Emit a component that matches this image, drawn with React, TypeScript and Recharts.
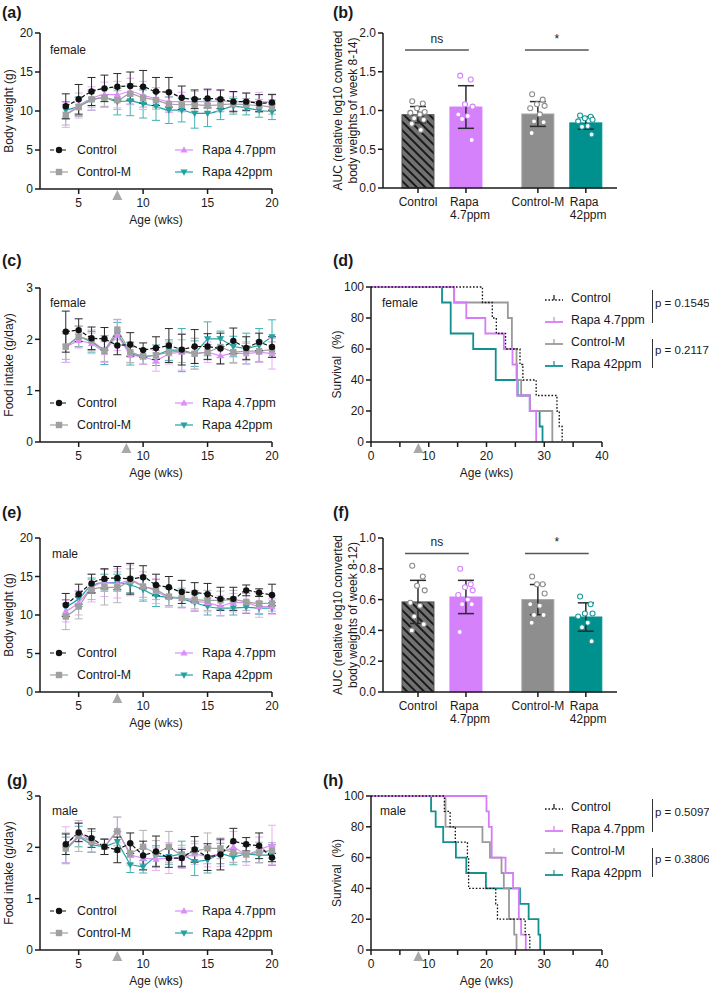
import React from "react";
import {
  ComposedChart,
  Line,
  Bar,
  Scatter,
  XAxis,
  YAxis,
  ErrorBar,
  Legend,
  ReferenceDot,
  ReferenceLine,
} from "recharts";

const FONT = '"Liberation Sans", Arial, Helvetica, sans-serif';
const INK = "#1a1a1a";

const weeks = [4, 5, 6, 7, 8, 9, 10, 11, 12, 13, 14, 15, 16, 17, 18, 19, 20];

// (a) female body weight, g (mean / SD)
const fBwControl = [10.6, 11.5, 12.5, 12.9, 13.1, 13.2, 13.1, 12.5, 12.4, 11.7, 11.5, 11.6, 11.5, 11.2, 11.2, 11.0, 11.1];
const fBwControlSd = [1.6, 1.9, 1.8, 1.7, 1.7, 1.8, 2.1, 1.8, 1.9, 1.5, 1.2, 1.2, 1.2, 1.3, 1.1, 1.1, 1.0];
const fBwControlM = [9.5, 10.5, 11.5, 11.7, 11.4, 12.2, 11.7, 11.4, 10.9, 10.8, 10.8, 10.7, 10.8, 10.9, 10.8, 10.7, 10.5];
const fBwControlMSd = [1.3, 1.2, 1.0, 1.1, 1.2, 1.3, 1.2, 1.0, 0.9, 0.9, 0.9, 0.9, 0.9, 0.9, 0.8, 0.8, 0.9];
const fBwRapa47 = [9.5, 10.7, 11.6, 12.1, 12.1, 12.5, 12.0, 11.6, 11.2, 11.2, 11.2, 11.2, 11.3, 11.2, 11.2, 11.2, 11.1];
const fBwRapa47Sd = [1.6, 1.6, 1.5, 1.6, 1.7, 1.7, 1.8, 1.4, 1.4, 1.2, 1.3, 1.4, 1.3, 1.2, 1.1, 1.2, 1.1];
const fBwRapa42 = [10.1, 10.6, 11.4, 11.7, 11.2, 11.3, 10.9, 10.6, 10.1, 10.1, 9.7, 9.7, 10.1, 10.6, 10.4, 10.1, 9.9];
const fBwRapa42Sd = [1.1, 1.2, 1.3, 1.2, 1.7, 1.9, 1.8, 1.8, 1.7, 1.5, 1.9, 1.7, 1.2, 1.0, 0.9, 0.9, 1.0];

// (c) female food intake, g/day
const fFiControl = [2.15, 2.18, 2.02, 2.01, 1.88, 1.9, 1.79, 1.83, 1.88, 1.8, 1.86, 1.86, 1.82, 1.97, 1.83, 1.95, 1.85];
const fFiControlSd = [0.4, 0.22, 0.22, 0.22, 0.18, 0.23, 0.14, 0.22, 0.33, 0.3, 0.33, 0.25, 0.3, 0.25, 0.22, 0.17, 0.2];
const fFiControlM = [1.86, 2.05, 1.98, 1.77, 2.19, 1.75, 1.67, 1.69, 1.75, 1.77, 1.72, 1.75, 1.85, 1.75, 1.77, 1.77, 1.8];
const fFiControlMSd = [0.25, 0.2, 0.2, 0.2, 0.2, 0.2, 0.15, 0.15, 0.2, 0.22, 0.3, 0.15, 0.2, 0.2, 0.18, 0.2, 0.15];
const fFiRapa47 = [1.85, 1.98, 1.92, 1.75, 2.08, 1.69, 1.66, 1.58, 1.72, 1.75, 1.72, 1.75, 1.68, 1.73, 1.72, 1.75, 1.72];
const fFiRapa47Sd = [0.3, 0.15, 0.2, 0.2, 0.3, 0.15, 0.15, 0.2, 0.2, 0.35, 0.3, 0.2, 0.15, 0.2, 0.2, 0.2, 0.3];
const fFiRapa42 = [1.85, 2.06, 1.95, 1.79, 2.11, 1.72, 1.66, 1.69, 1.79, 1.79, 1.72, 2.01, 2.01, 1.86, 1.82, 1.88, 2.05];
const fFiRapa42Sd = [0.3, 0.2, 0.2, 0.28, 0.22, 0.22, 0.15, 0.2, 0.2, 0.42, 0.25, 0.33, 0.15, 0.2, 0.3, 0.33, 0.33];

// (e) male body weight, g
const mBwControl = [11.3, 12.7, 14.1, 14.7, 14.8, 14.7, 14.9, 13.9, 13.6, 13.0, 12.9, 12.7, 12.1, 12.1, 13.2, 12.9, 12.6];
const mBwControlSd = [1.5, 1.3, 1.2, 1.3, 1.5, 2.0, 1.5, 1.4, 1.4, 1.5, 1.3, 1.4, 1.5, 1.5, 0.7, 0.5, 1.4];
const mBwControlM = [9.8, 11.1, 13.3, 13.6, 13.6, 14.4, 13.7, 13.3, 12.4, 12.2, 12.0, 11.9, 11.9, 12.0, 11.7, 11.5, 11.5];
const mBwControlMSd = [1.7, 1.6, 1.3, 2.3, 2.0, 1.6, 1.4, 1.3, 1.2, 1.2, 1.2, 1.3, 1.2, 1.2, 1.1, 1.3, 1.0];
const mBwRapa47 = [10.5, 11.6, 13.5, 14.2, 14.1, 14.5, 13.8, 13.1, 12.3, 12.2, 11.8, 11.6, 11.2, 11.6, 11.6, 11.1, 11.1];
const mBwRapa47Sd = [1.4, 1.6, 1.8, 1.8, 1.9, 2.0, 1.8, 1.6, 1.3, 1.3, 1.2, 1.2, 1.3, 1.2, 1.3, 1.4, 1.0];
const mBwRapa42 = [11.0, 12.1, 13.8, 14.2, 14.2, 13.9, 13.3, 12.5, 12.3, 12.1, 11.6, 11.1, 10.9, 10.9, 11.0, 10.9, 10.9];
const mBwRapa42Sd = [1.0, 1.0, 1.0, 1.1, 1.1, 1.0, 1.5, 1.4, 1.1, 1.1, 1.1, 1.1, 1.0, 0.9, 0.8, 0.8, 0.7];

// (g) male food intake, g/day
const mFiControl = [2.06, 2.29, 2.18, 2.01, 1.95, 2.08, 1.84, 1.92, 1.79, 1.79, 1.96, 1.81, 1.86, 2.12, 2.06, 2.03, 1.8];
const mFiControlSd = [0.2, 0.18, 0.18, 0.15, 0.25, 0.2, 0.28, 0.3, 0.18, 0.17, 0.25, 0.26, 0.3, 0.25, 0.13, 0.25, 0.08];
const mFiControlM = [1.98, 2.22, 2.11, 2.01, 2.31, 1.88, 2.01, 1.88, 2.01, 1.84, 1.92, 1.98, 1.98, 1.9, 1.87, 1.9, 1.94];
const mFiControlMSd = [0.3, 0.3, 0.2, 0.15, 0.28, 0.2, 0.32, 0.25, 0.3, 0.2, 0.2, 0.3, 0.2, 0.2, 0.15, 0.2, 0.15];
const mFiRapa47 = [2.05, 2.3, 2.11, 2.01, 2.34, 1.85, 1.79, 1.77, 1.79, 1.79, 1.87, 1.82, 1.88, 2.01, 1.85, 1.95, 2.05];
const mFiRapa47Sd = [0.35, 0.18, 0.2, 0.15, 0.25, 0.2, 0.22, 0.22, 0.3, 0.2, 0.2, 0.2, 0.25, 0.3, 0.2, 0.25, 0.38];
const mFiRapa42 = [1.95, 2.21, 2.05, 2.01, 2.11, 1.66, 1.62, 1.83, 1.82, 1.87, 1.72, 1.75, 1.88, 1.81, 1.87, 1.85, 1.85];
const mFiRapa42Sd = [0.25, 0.2, 0.15, 0.15, 0.2, 0.15, 0.12, 0.2, 0.15, 0.25, 0.27, 0.25, 0.2, 0.15, 0.15, 0.15, 0.2];

// AUC bar panels: group order Control, Rapa 4.7ppm, Control-M, Rapa 42ppm
const barLabels = ["Control", "Rapa\n4.7ppm", "Control-M", "Rapa\n42ppm"];
const fAucMean = [0.946, 1.045, 0.955, 0.84];
const fAucSd = [0.105, 0.275, 0.16, 0.08];
const fAucControl = [1.12, 1.09, 1.03, 0.98, 0.97, 0.95, 0.9, 0.88, 0.83, 0.75];
const fAucRapa47 = [1.45, 1.4, 1.08, 1.05, 0.95, 0.93, 0.89, 0.62];
const fAucControlM = [1.21, 1.14, 1.08, 1.06, 1.03, 0.95, 0.86, 0.85, 0.71];
const fAucRapa42 = [0.935, 0.92, 0.9, 0.88, 0.86, 0.8, 0.79, 0.69];
const mAucMean = [0.585, 0.617, 0.6, 0.487];
const mAucSd = [0.14, 0.108, 0.098, 0.092];
const mAucControl = [0.82, 0.75, 0.69, 0.66, 0.58, 0.56, 0.49, 0.44, 0.4];
const mAucRapa47 = [0.8, 0.7, 0.68, 0.66, 0.63, 0.6, 0.57, 0.57, 0.39];
const mAucControlM = [0.75, 0.7, 0.7, 0.64, 0.57, 0.56, 0.5, 0.5, 0.45];
const mAucRapa42 = [0.62, 0.57, 0.51, 0.51, 0.49, 0.45, 0.42, 0.33];
const sigLabels = ["ns", "*"];

// survival, weeks at each step and % alive after it
const fSurvControlWk = [0, 19.3, 21.0, 21.7, 23.3, 25.8, 26.3, 28.6, 32.2, 32.6, 33.1];
const fSurvControlPct = [100, 90, 80, 70, 60, 50, 40, 30, 20, 10, 0];
const fSurvRapa47Wk = [0, 14.4, 16.5, 19.8, 23.0, 24.5, 25.3, 27.5, 28.6];
const fSurvRapa47Pct = [100, 90, 80, 70, 60, 50, 30, 20, 0];
const fSurvControlMWk = [0, 14.4, 23.7, 24.4, 25.2, 26.0, 27.5, 31.4];
const fSurvControlMPct = [100, 90, 80, 60, 40, 30, 20, 0];
const fSurvRapa42Wk = [0, 12.3, 13.8, 17.7, 21.6, 25.4, 27.5, 29.2, 29.7];
const fSurvRapa42Pct = [100, 90, 70, 60, 40, 30, 20, 10, 0];
const mSurvControlWk = [0, 12.7, 13.7, 14.6, 16.7, 16.9, 21.6, 21.9, 26.7, 27.5];
const mSurvControlPct = [100, 90, 80, 70, 60, 40, 30, 20, 10, 0];
const mSurvRapa47Wk = [0, 20.0, 20.4, 20.9, 23.3, 24.6, 25.6, 26.0, 26.8];
const mSurvRapa47Pct = [100, 90, 80, 60, 50, 40, 20, 10, 0];
const mSurvControlMWk = [0, 12.9, 19.3, 20.6, 22.6, 23.0, 23.9, 24.8, 25.2];
const mSurvControlMPct = [100, 80, 70, 60, 50, 40, 20, 10, 0];
const mSurvRapa42Wk = [0, 10.4, 11.2, 12.5, 14.7, 16.5, 19.9, 25.8, 27.3, 29.0, 29.3];
const mSurvRapa42Pct = [100, 90, 80, 70, 60, 50, 40, 30, 20, 10, 0];
const fPValues = ["p = 0.1545", "p = 0.2117"];
const mPValues = ["p = 0.5097", "p = 0.3806"];

const groups = [
  { key: "control", name: "Control", line: "#111111", err: "#2a2a2a", dash: "4 2", marker: "circle" },
  { key: "controlM", name: "Control-M", line: "#a0a0a0", err: "#b4b4b4", dash: undefined, marker: "square" },
  { key: "rapa47", name: "Rapa 4.7ppm", line: "#dc8ef8", err: "#e8acfb", dash: undefined, marker: "up" },
  { key: "rapa42", name: "Rapa 42ppm", line: "#22a2a2", err: "#44b3b3", dash: undefined, marker: "down" },
];
const drawOrder = [3, 2, 1, 0];

const barFills = ["url(#hatch)", "#d681fc", "#8e8e8e", "#00908d"];
const barEdges = ["#555555", "#d681fc", "#a6a6a6", "#00908d"];
const dotStrokes = ["#8a8a8a", "#d681fc", "#8e8e8e", "#1c9898"];
const jitter = [-0.12, 0.1, -0.02, 0.14, -0.16, 0.04, -0.08, 0.12, -0.13, 0.06];

const survStyles = [
  { name: "Control", color: "#111111", dash: "1.6 1.8", width: 1.3 },
  { name: "Rapa 4.7ppm", color: "#d77cf7", dash: undefined, width: 1.8 },
  { name: "Control-M", color: "#9a9a9a", dash: undefined, width: 1.8 },
  { name: "Rapa 42ppm", color: "#11908f", dash: undefined, width: 1.8 },
];

function Marker({ kind, cx, cy, color }: any) {
  if (kind === "circle") return <circle cx={cx} cy={cy} r={3.2} fill={color} />;
  if (kind === "square") return <rect x={cx - 3.2} y={cy - 3.2} width={6.4} height={6.4} fill={color} />;
  if (kind === "up")
    return <polygon points={`${cx},${cy - 3.8} ${cx - 3.6},${cy + 2.6} ${cx + 3.6},${cy + 2.6}`} fill={color} />;
  return <polygon points={`${cx},${cy + 3.8} ${cx - 3.6},${cy - 2.6} ${cx + 3.6},${cy - 2.6}`} fill={color} />;
}

function YTitle(props: any) {
  const { viewBox, lines, dx } = props;
  if (!viewBox) return null;
  const cy = viewBox.y + viewBox.height / 2;
  return (
    <g>
      {lines.map((l: string, i: number) => (
        <text
          key={i}
          transform={`translate(${viewBox.x + dx + i * 15}, ${cy}) rotate(-90)`}
          textAnchor="middle"
          dominantBaseline="central"
          fontSize={12}
          fontFamily={FONT}
          fill={INK}
          style={{ whiteSpace: "pre" }}
        >
          {l}
        </text>
      ))}
    </g>
  );
}

function XTitle(props: any) {
  const { viewBox, text } = props;
  if (!viewBox) return null;
  return (
    <text x={viewBox.x + viewBox.width / 2} y={viewBox.y + 31} textAnchor="middle" dominantBaseline="central" fontSize={12} fontFamily={FONT} fill={INK}>
      {text}
    </text>
  );
}

const Arrow = (p: any) => (
  <polygon points={`${p.cx},${p.cy + 1} ${p.cx - 5},${p.cy + 11} ${p.cx + 5},${p.cy + 11}`} fill="#a9a9a9" />
);

const tickStyle = { fontSize: 12, fill: INK, fontFamily: FONT };

function timeRows(means: number[][], sds: number[][]) {
  return weeks.map((week, i) => {
    const row: Record<string, number> = { week };
    groups.forEach((g, gi) => {
      row[g.key] = means[gi][i];
      row[g.key + "Sd"] = sds[gi][i];
    });
    return row;
  });
}

function TimeLegend() {
  return (
    <div style={{ position: "relative", width: 240, height: 44, fontFamily: FONT, fontSize: 12.3, color: INK }}>
      {groups.map((g, i) => (
        <div
          key={g.key}
          style={{ position: "absolute", left: i < 2 ? 0 : 125, top: (i % 2) * 22, height: 22, display: "flex", alignItems: "center", whiteSpace: "nowrap" }}
        >
          <svg width={18} height={12}>
            <line x1={0} x2={18} y1={6} y2={6} stroke={g.line} strokeWidth={1.2} strokeDasharray={g.dash} />
            <Marker kind={g.marker} cx={9} cy={6} color={g.line} />
          </svg>
          <span style={{ marginLeft: 9 }}>{g.name}</span>
        </div>
      ))}
    </div>
  );
}

function TimeCourse({ top, height, marginTop, domain, ticks, yTitle, rows, curve, arrowAt }: any) {
  return (
    <div style={{ position: "absolute", left: 0, top }}>
      <ComposedChart width={290} height={height} data={rows} margin={{ top: marginTop, right: 18, bottom: 0, left: 0 }}>
        <XAxis
          dataKey="week"
          type="number"
          domain={[2, 20]}
          ticks={[5, 10, 15, 20]}
          height={41}
          tick={tickStyle}
          tickSize={5}
          tickMargin={4}
          stroke={INK}
          strokeWidth={1.5}
          label={<XTitle text="Age (wks)" />}
        />
        <YAxis
          type="number"
          domain={domain}
          ticks={ticks}
          width={40}
          tick={tickStyle}
          tickSize={5}
          tickMargin={2}
          stroke={INK}
          strokeWidth={1.5}
          label={<YTitle lines={[yTitle]} dx={9} />}
        />
        {drawOrder.map((gi) => {
          const g = groups[gi];
          return (
            <Line
              key={g.key}
              dataKey={g.key}
              type={curve}
              stroke={g.line}
              strokeWidth={1.2}
              strokeDasharray={g.dash}
              dot={(p: any) => <Marker key={`${g.key}-${p.index}`} kind={g.marker} cx={p.cx} cy={p.cy} color={g.line} />}
              activeDot={false}
              isAnimationActive={false}
            >
              <ErrorBar dataKey={g.key + "Sd"} width={4} stroke={g.err} strokeWidth={1} direction="y" isAnimationActive={false} />
            </Line>
          );
        })}
        <ReferenceDot x={arrowAt} y={0} ifOverflow="visible" shape={Arrow} />
        <Legend
          layout="vertical"
          verticalAlign="middle"
          align="center"
          content={() => <TimeLegend />}
          wrapperStyle={{ left: 50, top: height - 91, width: 240, height: 44 }}
        />
      </ComposedChart>
    </div>
  );
}

const barPos = (i: number) => i + (i >= 2 ? 0.5 : 0);
const barIndex = (pos: number) => [0, 1, 2, 3].find((i) => Math.abs(barPos(i) - pos) < 0.01) ?? 0;

function BarTick(props: any) {
  const { x, y, payload } = props;
  const lines = barLabels[barIndex(payload.value)].split("\n");
  if (lines.length === 1)
    return (
      <text x={x} y={y + 7} textAnchor="middle" dominantBaseline="central" {...tickStyle}>
        {lines[0]}
      </text>
    );
  return (
    <g>
      {lines.map((l, i) => (
        <text key={i} x={x - 16} y={y + 7 + i * 13} textAnchor="start" dominantBaseline="central" {...tickStyle}>
          {l}
        </text>
      ))}
    </g>
  );
}

// numeric x axis gives the bars no band, so the rect is drawn at a fixed width round its centre
function AucBar(p: any) {
  const i = barIndex(p.payload.pos);
  const cx = p.x + p.width / 2;
  return <rect x={cx - 16} y={p.y} width={32} height={p.height} fill={barFills[i]} stroke={barEdges[i]} strokeWidth={1} />;
}

function AucBars({ top, height, marginTop, means, sds, points, yMax, yTicks, sigY, yTitle }: any) {
  const rows = means.map((m: number, i: number) => ({ pos: barPos(i), mean: m, sd: sds[i] }));
  const dots = points.flatMap((vals: number[], gi: number) =>
    vals.map((v, j) => ({ pos: barPos(gi) + jitter[j % jitter.length], v, g: gi }))
  );
  const pairs = [
    [0, 1],
    [2, 3],
  ];
  return (
    <div style={{ position: "absolute", left: 330, top }}>
      <ComposedChart width={300} height={height} data={rows} margin={{ top: marginTop, right: 13, bottom: 0, left: 0 }}>
        <defs>
          <pattern id="hatch" patternUnits="userSpaceOnUse" width={6} height={6} patternTransform="rotate(-45)">
            <rect width={6} height={6} fill="#727272" />
            <line x1={0} y1={0} x2={0} y2={6} stroke="#1a1a1a" strokeWidth={4} />
          </pattern>
        </defs>
        <XAxis
          dataKey="pos"
          type="number"
          domain={[-0.73, 4.15]}
          ticks={[0, 1, 2.5, 3.5]}
          height={41}
          tick={<BarTick />}
          tickSize={5}
          tickMargin={2}
          stroke={INK}
          strokeWidth={1.5}
        />
        <YAxis
          type="number"
          domain={[0, yMax]}
          ticks={yTicks}
          width={53}
          tick={tickStyle}
          tickFormatter={(v: number) => v.toFixed(1)}
          tickSize={5}
          tickMargin={2}
          stroke={INK}
          strokeWidth={1.5}
          label={<YTitle lines={yTitle} dx={8} />}
        />
        <Bar dataKey="mean" barSize={32} shape={AucBar} isAnimationActive={false}>
          <ErrorBar dataKey="sd" width={8} stroke="#2b2b2b" strokeWidth={1.5} direction="y" isAnimationActive={false} />
        </Bar>
        <Scatter
          data={dots}
          dataKey="v"
          isAnimationActive={false}
          shape={(p: any) => <circle cx={p.cx} cy={p.cy} r={2.5} fill="#ffffff" stroke={dotStrokes[p.payload.g]} strokeWidth={1.1} />}
        />
        {pairs.map(([a, b], k) => (
          <ReferenceLine
            key={`sig-${k}`}
            segment={[
              { x: barPos(a) - 0.27, y: sigY },
              { x: barPos(b) + 0.06, y: sigY },
            ]}
            stroke="#555555"
            strokeWidth={1.5}
            ifOverflow="visible"
          />
        ))}
        {pairs.map(([a, b], k) => (
          <ReferenceDot
            key={`sigt-${k}`}
            x={(barPos(a) - 0.27 + barPos(b) + 0.06) / 2}
            y={sigY}
            ifOverflow="visible"
            shape={(p: any) => (
              <text x={p.cx} y={p.cy - 7} textAnchor="middle" fontSize={12} fontFamily={FONT} fill={INK}>
                {sigLabels[k]}
              </text>
            )}
          />
        ))}
      </ComposedChart>
    </div>
  );
}

function SurvTick(props: any) {
  const { x, y, payload } = props;
  if (payload.value % 10 !== 0) return <g />;
  return (
    <text x={x} y={y + 7} textAnchor="middle" dominantBaseline="central" {...tickStyle}>
      {payload.value}
    </text>
  );
}

function SurvLegend({ pValues }: any) {
  const rowTops = [0, 21.5, 44, 65.5];
  return (
    <div style={{ position: "relative", width: 170, height: 88, fontFamily: FONT, fontSize: 12.3, color: INK }}>
      {survStyles.map((s, i) => (
        <div key={s.name} style={{ position: "absolute", left: 0, top: rowTops[i], height: 22, display: "flex", alignItems: "center", whiteSpace: "nowrap" }}>
          <svg width={18} height={12}>
            <line x1={0} x2={18} y1={8} y2={8} stroke={s.color} strokeWidth={s.width} strokeDasharray={s.dash} />
            <line x1={9} x2={9} y1={3} y2={8} stroke={s.color} strokeWidth={1.2} />
          </svg>
          <span style={{ marginLeft: 8 }}>{s.name}</span>
        </div>
      ))}
      {pValues.map((p: string, k: number) => (
        <div key={p}>
          <div style={{ position: "absolute", left: 107, top: k === 0 ? 3 : 52, width: 1.3, height: k === 0 ? 33 : 29, background: "#333" }} />
          <div style={{ position: "absolute", left: 110, top: k === 0 ? 10 : 57, fontSize: 11.5, whiteSpace: "nowrap" }}>{p}</div>
        </div>
      ))}
    </div>
  );
}

function Survival({ top, height, marginTop, curves, pValues }: any) {
  return (
    <div style={{ position: "absolute", left: 330, top }}>
      <ComposedChart width={380} height={height} margin={{ top: marginTop, right: 108, bottom: 0, left: 0 }}>
        <XAxis
          dataKey="t"
          type="number"
          domain={[0, 40]}
          ticks={[0, 5, 10, 15, 20, 25, 30, 35, 40]}
          height={41}
          tick={<SurvTick />}
          tickSize={5}
          tickMargin={2}
          stroke={INK}
          strokeWidth={1.5}
          label={<XTitle text="Age (wks)" />}
        />
        <YAxis
          type="number"
          domain={[0, 100]}
          ticks={[0, 20, 40, 60, 80, 100]}
          width={41}
          tick={tickStyle}
          tickSize={5}
          tickMargin={2}
          stroke={INK}
          strokeWidth={1.5}
          label={<YTitle lines={["Survival  (%)"]} dx={7} />}
        />
        {[3, 2, 1, 0].map((i) => (
          <Line
            key={survStyles[i].name}
            data={curves[i]}
            dataKey="p"
            type="stepAfter"
            stroke={survStyles[i].color}
            strokeWidth={survStyles[i].width}
            strokeDasharray={survStyles[i].dash}
            dot={false}
            activeDot={false}
            isAnimationActive={false}
          />
        ))}
        <ReferenceDot x={8.2} y={0} ifOverflow="visible" shape={Arrow} />
        <Legend
          layout="vertical"
          verticalAlign="middle"
          align="center"
          content={() => <SurvLegend pValues={pValues} />}
          wrapperStyle={{ left: 215, top: marginTop, width: 170, height: 88 }}
        />
      </ComposedChart>
    </div>
  );
}

const curve = (wk: number[], pct: number[]) => wk.map((t, i) => ({ t, p: pct[i] }));

function Tag({ x, y, children, bold }: any) {
  return (
    <div
      style={{
        position: "absolute",
        left: x,
        top: y,
        fontFamily: FONT,
        fontSize: bold ? 16 : 12,
        fontWeight: bold ? 700 : 400,
        color: INK,
        lineHeight: 1,
        whiteSpace: "nowrap",
      }}
    >
      {children}
    </div>
  );
}

export default function App() {
  const fBw = timeRows([fBwControl, fBwControlM, fBwRapa47, fBwRapa42], [fBwControlSd, fBwControlMSd, fBwRapa47Sd, fBwRapa42Sd]);
  const fFi = timeRows([fFiControl, fFiControlM, fFiRapa47, fFiRapa42], [fFiControlSd, fFiControlMSd, fFiRapa47Sd, fFiRapa42Sd]);
  const mBw = timeRows([mBwControl, mBwControlM, mBwRapa47, mBwRapa42], [mBwControlSd, mBwControlMSd, mBwRapa47Sd, mBwRapa42Sd]);
  const mFi = timeRows([mFiControl, mFiControlM, mFiRapa47, mFiRapa42], [mFiControlSd, mFiControlMSd, mFiRapa47Sd, mFiRapa42Sd]);
  const fSurv = [
    curve(fSurvControlWk, fSurvControlPct),
    curve(fSurvRapa47Wk, fSurvRapa47Pct),
    curve(fSurvControlMWk, fSurvControlMPct),
    curve(fSurvRapa42Wk, fSurvRapa42Pct),
  ];
  const mSurv = [
    curve(mSurvControlWk, mSurvControlPct),
    curve(mSurvRapa47Wk, mSurvRapa47Pct),
    curve(mSurvControlMWk, mSurvControlMPct),
    curve(mSurvRapa42Wk, mSurvRapa42Pct),
  ];

  return (
    <div style={{ position: "absolute", left: 0, top: 0, width: 709, height: 989, background: "#ffffff", overflow: "hidden" }}>
      <TimeCourse top={0} height={230} marginTop={33} domain={[0, 20]} ticks={[0, 5, 10, 15, 20]} yTitle="Body weight (g)" rows={fBw} curve="monotone" arrowAt={8} />
      <TimeCourse top={240} height={243} marginTop={48} domain={[0, 3]} ticks={[0, 1, 2, 3]} yTitle="Food intake (g/day)" rows={fFi} curve="linear" arrowAt={8.7} />
      <TimeCourse top={480} height={253} marginTop={58} domain={[0, 20]} ticks={[0, 5, 10, 15, 20]} yTitle="Body weight (g)" rows={mBw} curve="monotone" arrowAt={8} />
      <TimeCourse top={730} height={261} marginTop={66} domain={[0, 3]} ticks={[0, 1, 2, 3]} yTitle="Food intake (g/day)" rows={mFi} curve="linear" arrowAt={8} />

      <AucBars
        top={0}
        height={229}
        marginTop={33}
        means={fAucMean}
        sds={fAucSd}
        points={[fAucControl, fAucRapa47, fAucControlM, fAucRapa42]}
        yMax={2}
        yTicks={[0, 0.5, 1, 1.5, 2]}
        sigY={1.78}
        yTitle={["AUC (relative log10 converted", "body weights of week 8-14)"]}
      />
      <AucBars
        top={480}
        height={253}
        marginTop={58}
        means={mAucMean}
        sds={mAucSd}
        points={[mAucControl, mAucRapa47, mAucControlM, mAucRapa42]}
        yMax={1}
        yTicks={[0, 0.2, 0.4, 0.6, 0.8, 1]}
        sigY={0.9}
        yTitle={["AUC (relative log10 converted", "body weights of week 8-12)"]}
      />

      <Survival top={240} height={243} marginTop={47} curves={fSurv} pValues={fPValues} />
      <Survival top={730} height={261} marginTop={66} curves={mSurv} pValues={mPValues} />

      <Tag x={2} y={5} bold>(a)</Tag>
      <Tag x={333} y={5} bold>(b)</Tag>
      <Tag x={2} y={253} bold>(c)</Tag>
      <Tag x={333} y={253} bold>(d)</Tag>
      <Tag x={2} y={505} bold>(e)</Tag>
      <Tag x={333} y={505} bold>(f)</Tag>
      <Tag x={7} y={773} bold>(g)</Tag>
      <Tag x={323} y={773} bold>(h)</Tag>

      <Tag x={50} y={44}>female</Tag>
      <Tag x={50} y={297}>female</Tag>
      <Tag x={52} y={548}>male</Tag>
      <Tag x={52} y={805}>male</Tag>
      <Tag x={382} y={297}>female</Tag>
      <Tag x={380} y={805}>male</Tag>
    </div>
  );
}
